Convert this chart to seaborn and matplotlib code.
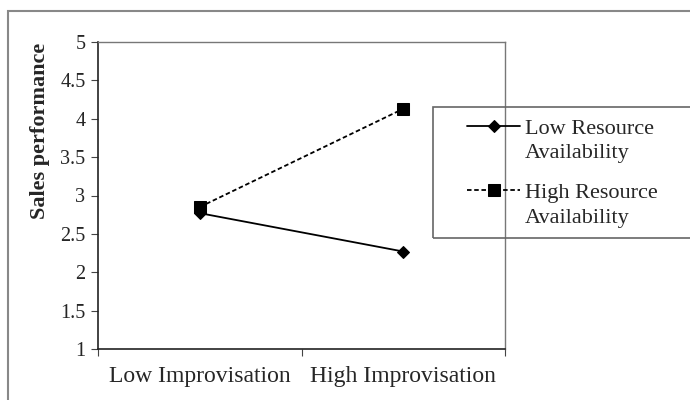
import pandas as pd
import matplotlib.pyplot as plt
import seaborn as sns
from matplotlib.patches import Rectangle
from matplotlib.transforms import Affine2D

categories = ['Low Improvisation', 'High Improvisation']
low_resource = [2.77, 2.27]
high_resource = [2.85, 4.13]
series_names = ['Low Resource\nAvailability', 'High Resource\nAvailability']

rows = []
for i, c in enumerate(categories):
    rows.append([series_names[0], i, low_resource[i]])
    rows.append([series_names[1], i, high_resource[i]])
df = pd.DataFrame(rows, columns=['group', 'pos', 'sales'])

sns.set_style('white')
plt.rcParams['font.family'] = ['Liberation Serif', 'DejaVu Serif']

fig = plt.figure(figsize=(6.9, 4), dpi=100)
ax = fig.add_axes([0.142, 0.1275, 0.59, 0.7675])

sns.lineplot(data=df, x='pos', y='sales', hue='group', style='group',
             palette=['black', 'black'], markers=['D', 's'],
             dashes=[(None, None), (2.5, 1.5)], markersize=8, linewidth=1.3,
             markeredgecolor='black', ax=ax)
for line in ax.lines:
    if line.get_marker() == 'D':
        line.set_markersize(6)

ax.set_xlim(-0.5, 1.5)
ax.set_ylim(1, 5)
ax.set_yticks([1, 1.5, 2, 2.5, 3, 3.5, 4, 4.5, 5])
ax.set_yticklabels(['1', '1.5', '2', '2.5', '3', '3.5', '4', '4.5', '5'])
ax.set_xticks([-0.5, 0.5, 1.5])
ax.set_xticklabels([])
ax.set_xticks([0, 1], minor=True)
ax.set_xticklabels(categories, minor=True)
ax.tick_params(axis='x', which='minor', length=0, pad=12, labelsize=17)
ax.tick_params(axis='x', which='major', direction='out', length=5, color='#444444')
ax.tick_params(axis='y', direction='out', length=5, labelsize=14.5, color='#444444', pad=4)
ax.tick_params(left=True, bottom=True)
for s in ['left', 'bottom']:
    ax.spines[s].set_color('#222222')
    ax.spines[s].set_linewidth(1.2)
for s in ['top', 'right']:
    ax.spines[s].set_color('#777777')
    ax.spines[s].set_linewidth(1.0)

ax.set_xlabel('')
ax.set_ylabel('Sales performance', fontsize=16, fontweight='bold')
ax.yaxis.set_label_coords(-0.118, 0.71)

leg = ax.legend(loc='upper left', bbox_to_anchor=(467 / 690, 1 - 120 / 400),
                bbox_transform=fig.transFigure, fontsize=16, frameon=False,
                borderaxespad=0, borderpad=0, handlelength=2.4,
                labelspacing=0.95, handletextpad=0.2)
for t in leg.get_texts():
    t.set_linespacing(1.38)
for h in leg.legend_handles:
    h.set_transform(h.get_transform() + Affine2D().translate(0, 15))

fig.patches.append(Rectangle((433 / 690, 1 - 238 / 400), 260 / 690, 131 / 400,
                             transform=fig.transFigure, fill=False,
                             edgecolor='#666666', linewidth=1.2))
fig.patches.append(Rectangle((8 / 690, -0.05), 700 / 690, 1.05 - 11 / 400,
                             transform=fig.transFigure, fill=False,
                             edgecolor='#888888', linewidth=1.5))

plt.savefig('out.png', dpi=100)
